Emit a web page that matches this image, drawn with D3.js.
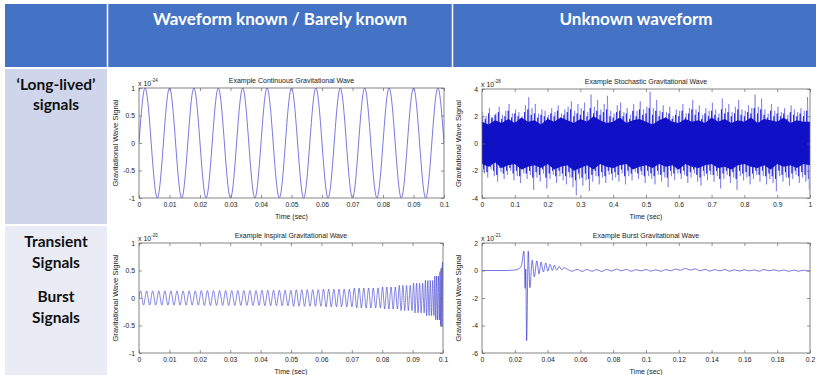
<!DOCTYPE html>
<html>
<head>
<meta charset="utf-8">
<script src="https://cdn.jsdelivr.net/npm/d3@7"></script>
<style>
  body { margin: 0; background: #fff; }
  svg { display: block; }
  .axis line { stroke: #666; stroke-width: 0.7; }
  .axis text { font-family: "Liberation Sans Narrow", "Liberation Sans", Arial, sans-serif; font-size: 6.8px; fill: #222; }
  .ptitle, .plabel { font-family: "Liberation Sans", Arial, sans-serif; fill: #222; }
  .head { font-family: Lato, "Open Sans", sans-serif; font-weight: 700; }
</style>
</head>
<body>
<svg id="chart" width="816" height="375"></svg>
<script>
// ---- table text ----
const columnHeads = ['Waveform known / Barely known', 'Unknown waveform'];
const rowHeads1 = ['\u2018Long-lived\u2019', 'signals'];
const rowHeads2 = ['Transient', 'Signals', 'Burst', 'Signals'];

// ---- continuous wave: extrema (sec, x1e-24) ----
const continuousPeaks = [
  [0, 0], [0.002, 1], [0.006, -1], [0.010, 1], [0.014, -1], [0.018, 1], [0.022, -1],
  [0.026, 1], [0.030, -1], [0.034, 1], [0.038, -1], [0.042, 1], [0.046, -1], [0.050, 1],
  [0.054, -1], [0.058, 1], [0.062, -1], [0.066, 1], [0.070, -1], [0.074, 1], [0.078, -1],
  [0.082, 1], [0.086, -1], [0.090, 1], [0.094, -1], [0.098, 1], [0.1, 0]
];

// ---- stochastic wave (x1e-28): spike tops / bottoms per 0.01 s ----
const noiseBin = 0.01;
const noiseUpper = [
  2.3, 2.0, 2.6, 1.9, 2.2, 2.7, 2.1, 2.4, 2.9, 2.2,
  2.5, 2.3, 2.0, 2.8, 3.4, 2.6, 2.9, 2.2, 2.5, 2.4,
  2.1, 2.6, 2.3, 2.8, 2.2, 2.5, 2.7, 3.1, 2.4, 2.9,
  2.6, 3.0, 2.3, 3.6, 2.7, 3.2, 2.5, 2.9, 3.5, 2.4,
  2.2, 2.8, 3.0, 2.3, 2.6, 2.1, 2.9, 2.4, 3.1, 2.5,
  2.7, 3.8, 2.6, 3.2, 2.4, 2.8, 2.3, 2.7, 2.0, 2.5,
  2.4, 2.9, 2.2, 2.6, 3.2, 2.5, 2.8, 2.1, 2.6, 2.4,
  3.0, 2.5, 2.2, 3.3, 2.6, 2.9, 2.3, 2.7, 3.2, 2.5,
  2.4, 2.8, 2.6, 3.6, 2.7, 3.3, 2.5, 2.2, 2.9, 2.4,
  2.7, 2.3, 2.6, 2.1, 2.8, 2.5, 2.3, 2.6, 2.4, 3.4
];
const noiseLower = [
  -2.2, -2.5, -1.9, -2.4, -2.8, -2.1, -2.6, -2.3, -2.0, -2.7,
  -2.4, -2.9, -2.2, -2.6, -2.3, -3.4, -2.5, -2.8, -2.2, -3.3,
  -2.6, -2.3, -2.9, -2.4, -2.7, -3.0, -2.5, -3.2, -3.8, -2.6,
  -3.1, -2.7, -3.5, -2.8, -2.4, -3.0, -2.5, -2.9, -2.3, -2.7,
  -2.5, -2.8, -2.2, -3.0, -2.4, -2.7, -2.1, -2.6, -2.3, -2.9,
  -2.4, -2.6, -3.0, -2.3, -2.8, -2.5, -3.2, -2.4, -2.7, -2.2,
  -2.6, -2.3, -2.9, -2.5, -2.2, -2.8, -3.1, -2.4, -2.7, -2.3,
  -2.8, -2.4, -3.3, -2.6, -2.3, -2.9, -2.5, -3.4, -2.4, -2.7,
  -2.5, -3.0, -2.6, -2.3, -2.8, -2.4, -3.0, -2.6, -2.9, -3.5,
  -2.4, -2.8, -2.5, -3.1, -2.6, -2.3, -2.9, -2.5, -2.8, -3.4
];
// dense middle swings per 0.01 s
const midUpper = [
  2.0, 1.8, 2.2, 1.9, 2.1, 2.3, 1.8, 2.0, 2.4, 1.9,
  2.2, 2.0, 1.8, 2.3, 2.5, 2.1, 2.2, 1.9, 2.1, 2.0,
  1.9, 2.2, 2.0, 2.4, 1.9, 2.1, 2.3, 2.5, 2.0, 2.2,
  2.1, 2.4, 2.0, 2.6, 2.2, 2.4, 2.1, 2.3, 2.5, 2.0,
  1.9, 2.3, 2.4, 2.0, 2.2, 1.8, 2.4, 2.0, 2.5, 2.1,
  2.2, 2.6, 2.1, 2.4, 2.0, 2.3, 1.9, 2.2, 1.8, 2.1,
  2.0, 2.4, 1.9, 2.2, 2.5, 2.1, 2.3, 1.8, 2.2, 2.0,
  2.4, 2.1, 1.9, 2.5, 2.2, 2.3, 2.0, 2.2, 2.5, 2.1,
  2.0, 2.3, 2.2, 2.6, 2.2, 2.5, 2.1, 1.9, 2.4, 2.0,
  2.2, 2.0, 2.2, 1.8, 2.3, 2.1, 2.0, 2.2, 2.0, 2.4
];
const midLower = [
  -1.9, -2.1, -1.7, -2.0, -2.3, -1.8, -2.2, -2.0, -1.8, -2.2,
  -2.0, -2.4, -1.9, -2.2, -2.0, -2.5, -2.1, -2.3, -1.9, -2.5,
  -2.2, -2.0, -2.4, -2.0, -2.2, -2.4, -2.1, -2.5, -2.7, -2.2,
  -2.5, -2.2, -2.6, -2.3, -2.0, -2.4, -2.1, -2.4, -2.0, -2.2,
  -2.1, -2.3, -1.9, -2.4, -2.0, -2.2, -1.8, -2.2, -2.0, -2.4,
  -2.0, -2.2, -2.4, -2.0, -2.3, -2.1, -2.5, -2.0, -2.2, -1.9,
  -2.2, -2.0, -2.4, -2.1, -1.9, -2.3, -2.5, -2.0, -2.2, -2.0,
  -2.3, -2.0, -2.6, -2.2, -2.0, -2.4, -2.1, -2.6, -2.0, -2.2,
  -2.1, -2.4, -2.2, -2.0, -2.3, -2.0, -2.4, -2.2, -2.4, -2.6,
  -2.0, -2.3, -2.1, -2.5, -2.2, -2.0, -2.4, -2.1, -2.3, -2.6
];
// solid core band per 0.02 s
const coreBin = 0.02;
const coreUpper = [
  1.6, 1.4, 1.7, 1.5, 1.8, 1.5, 1.9, 1.6, 1.7, 1.4, 1.8, 1.6, 1.9, 1.7, 1.5, 1.8, 1.6,
  2.0, 1.7, 1.5, 1.6, 1.9, 1.5, 1.7, 1.8, 1.6, 1.4, 1.7, 1.9, 1.6, 1.5, 1.8, 1.6, 1.7,
  1.5, 1.9, 1.6, 1.8, 1.5, 1.7, 1.6, 1.9, 1.5, 1.8, 1.7, 1.6, 1.9, 1.5, 1.7, 1.6, 1.6
];
const coreLower = [
  -1.5, -1.7, -1.4, -1.8, -1.6, -1.5, -1.9, -1.7, -1.6, -1.8, -1.5, -1.9, -1.7, -1.6, -2.0, -1.8, -1.6,
  -1.9, -1.5, -1.7, -1.8, -1.6, -1.5, -1.9, -1.7, -1.6, -1.8, -1.5, -1.7, -1.6, -1.9, -1.5, -1.7,
  -1.8, -1.6, -1.5, -1.8, -1.7, -1.9, -1.6, -1.5, -1.7, -1.8, -1.6, -1.9, -1.5, -1.7, -1.6, -1.8, -1.5, -1.6
];

// ---- inspiral: extrema (sec, x1e-20) ----
const inspiralPeaks = [
  [0, 0],
  [0.0005, 0.13], [0.0015, -0.13], [0.0025, 0.13], [0.0035, -0.13], [0.0045, 0.13], [0.0055, -0.13], [0.0065, 0.13], [0.0075, -0.13], [0.0085, 0.13], [0.0095, -0.13],
  [0.0105, 0.13], [0.0115, -0.13], [0.0125, 0.13], [0.0135, -0.13], [0.0145, 0.13], [0.0155, -0.13], [0.0165, 0.13], [0.0175, -0.13], [0.0185, 0.13], [0.0195, -0.13],
  [0.0205, 0.135], [0.0215, -0.135], [0.0225, 0.135], [0.0235, -0.135], [0.0245, 0.135], [0.0255, -0.135], [0.0265, 0.135], [0.0275, -0.135], [0.0285, 0.135], [0.0295, -0.135],
  [0.0305, 0.135], [0.0315, -0.135], [0.0325, 0.135], [0.0335, -0.135], [0.0345, 0.135], [0.0355, -0.135], [0.0365, 0.135], [0.0375, -0.135], [0.0385, 0.135], [0.0395, -0.135],
  [0.04045, 0.14], [0.0414, -0.14], [0.04235, 0.14], [0.0433, -0.14], [0.04425, 0.14], [0.0452, -0.14], [0.04615, 0.14], [0.0471, -0.14], [0.04805, 0.14], [0.049, -0.14], [0.04995, 0.14],
  [0.05085, -0.15], [0.05175, 0.15], [0.05265, -0.15], [0.05355, 0.15], [0.05445, -0.15], [0.05535, 0.15], [0.05625, -0.15], [0.05715, 0.15], [0.05805, -0.15], [0.05895, 0.15], [0.05985, -0.15],
  [0.0607, 0.16], [0.06155, -0.16], [0.0624, 0.16], [0.06325, -0.16], [0.0641, 0.16], [0.06495, -0.16], [0.0658, 0.16], [0.06665, -0.16], [0.0675, 0.16], [0.06835, -0.16], [0.0692, 0.16], [0.07005, -0.16],
  [0.07083, 0.18], [0.07161, -0.18], [0.07239, 0.18], [0.07317, -0.18], [0.07395, 0.18], [0.07473, -0.18], [0.07551, 0.18], [0.07629, -0.18], [0.07707, 0.18], [0.07785, -0.18], [0.07863, 0.18], [0.07941, -0.18],
  [0.08011, 0.2], [0.08081, -0.2], [0.08151, 0.2], [0.08221, -0.2], [0.08291, 0.2], [0.08361, -0.2], [0.08431, 0.2], [0.08501, -0.2],
  [0.08561, 0.23], [0.08621, -0.23], [0.08681, 0.23], [0.08741, -0.23], [0.08801, 0.23], [0.08861, -0.23], [0.08921, 0.23], [0.08981, -0.23],
  [0.09031, 0.27], [0.09081, -0.27], [0.09131, 0.27], [0.09181, -0.27], [0.09231, 0.27], [0.09281, -0.27], [0.09331, 0.27], [0.09381, -0.27],
  [0.09421, 0.32], [0.09461, -0.32], [0.09501, 0.32], [0.09541, -0.32], [0.09581, 0.32], [0.09621, -0.32], [0.09661, 0.32], [0.09701, -0.32],
  [0.09731, 0.4], [0.09761, -0.4], [0.09791, 0.4], [0.09821, -0.4], [0.09851, 0.4], [0.09881, -0.4],
  [0.09901, 0.48], [0.09921, -0.5], [0.09941, 0.55], [0.09961, -0.52], [0.09981, 0.65], [0.1, -0.5]
];

// ---- burst: (sec, x1e-21) ----
const burstPoints = [
  [0, 0], [0.015, 0], [0.019, 0.02], [0.022, 0.1], [0.024, 0.35], [0.0256, 1.4], [0.0263, -1.3],
  [0.0267, 0.1], [0.0272, -5.1], [0.0282, 1.4], [0.0292, -1.25], [0.0306, 0.75], [0.0319, -0.45],
  [0.0334, 0.7], [0.0348, -0.25], [0.036, 0.62], [0.0374, -0.1], [0.0389, 0.55], [0.0401, -0.05],
  [0.0415, 0.45], [0.0429, 0.0], [0.0441, 0.38], [0.0456, 0.02], [0.047, 0.3], [0.0486, 0.05],
  [0.05, 0.2], [0.052, 0.1], [0.055, -0.05], [0.058, 0.08], [0.061, -0.06], [0.064, 0.07],
  [0.067, -0.05], [0.070, 0.06], [0.073, -0.07], [0.076, 0.08], [0.079, -0.04], [0.082, 0.1],
  [0.085, -0.02], [0.088, 0.08], [0.091, -0.05], [0.094, 0.06], [0.097, -0.03], [0.100, 0.07],
  [0.103, -0.04], [0.106, 0.05], [0.109, -0.05], [0.112, 0.06], [0.115, -0.02], [0.118, 0.1],
  [0.121, 0.02], [0.124, 0.15], [0.127, 0.03], [0.130, 0.12], [0.133, -0.02], [0.136, 0.08],
  [0.139, -0.04], [0.142, 0.06], [0.145, -0.03], [0.148, 0.07], [0.151, -0.05], [0.154, 0.05],
  [0.157, -0.04], [0.160, 0.06], [0.163, -0.03], [0.166, 0.04], [0.169, -0.05], [0.172, 0.07],
  [0.175, -0.02], [0.178, 0.05], [0.181, -0.04], [0.184, 0.04], [0.187, -0.06], [0.190, 0.03],
  [0.193, -0.05], [0.196, 0.02], [0.199, -0.04], [0.2, -0.02]
];

// ---- ticks ----
const ticksTenth = [0, 0.01, 0.02, 0.03, 0.04, 0.05, 0.06, 0.07, 0.08, 0.09, 0.1];
const ticksOne = [0, 0.1, 0.2, 0.3, 0.4, 0.5, 0.6, 0.7, 0.8, 0.9, 1];
const ticksFifth = [0, 0.02, 0.04, 0.06, 0.08, 0.1, 0.12, 0.14, 0.16, 0.18, 0.2];
const ticksUnit = [-1, -0.5, 0, 0.5, 1];
const ticksFour = [-4, -2, 0, 2, 4];
const ticksBurst = [-6, -4, -2, 0, 2];

const lineColor = '#2b2bd0';
const svg = d3.select('#chart');

// ---- table background ----
svg.append('rect').attr('x', 5).attr('y', 4).attr('width', 811).attr('height', 63).attr('fill', '#4472C4');
[107.5, 452.5].forEach(xx => {
    svg.append('line').attr('x1', xx).attr('x2', xx).attr('y1', 4).attr('y2', 67)
        .attr('stroke', '#fff').attr('stroke-width', 1.5);
});
svg.append('rect').attr('x', 5).attr('y', 69).attr('width', 102).attr('height', 155).attr('fill', '#CFD5EA');
svg.append('rect').attr('x', 5).attr('y', 226).attr('width', 102).attr('height', 149).attr('fill', '#E9EBF5');

svg.append('text').attr('class', 'head').attr('x', 280).attr('y', 25).attr('text-anchor', 'middle')
    .attr('font-size', 17).attr('fill', '#fff').text(columnHeads[0]);
svg.append('text').attr('class', 'head').attr('x', 636).attr('y', 25).attr('text-anchor', 'middle')
    .attr('font-size', 17).attr('fill', '#fff').text(columnHeads[1]);

rowHeads1.forEach((t, i) => {
    svg.append('text').attr('class', 'head').attr('x', 56).attr('y', 90 + i * 20).attr('text-anchor', 'middle')
        .attr('font-size', 15.5).attr('fill', '#111').text(t);
});
[247, 268, 302, 323].forEach((yy, i) => {
    svg.append('text').attr('class', 'head').attr('x', 56).attr('y', yy).attr('text-anchor', 'middle')
        .attr('font-size', 15.5).attr('fill', '#111').text(rowHeads2[i]);
});

// ---- panels ----
function drawPanel(p) {
    const x = d3.scaleLinear().domain(p.xDomain).range([p.left, p.right]);
    const y = d3.scaleLinear().domain(p.yDomain).range([p.bottom, p.top]);
    const g = svg.append('g');

    g.append('clipPath').attr('id', 'clip-' + p.id)
        .append('rect').attr('x', p.left).attr('y', p.top)
        .attr('width', p.right - p.left).attr('height', p.bottom - p.top);
    const plot = g.append('g').attr('clip-path', `url(#clip-${p.id})`);
    p.draw(plot, x, y);

    // MATLAB style: ticks inside on all four sides
    g.append('g').attr('class', 'axis').attr('transform', `translate(0,${p.bottom})`)
        .call(d3.axisBottom(x).tickValues(p.xTicks).tickFormat(d => String(d))
            .tickSizeInner(-3).tickSizeOuter(0).tickPadding(4));
    g.append('g').attr('class', 'axis').attr('transform', `translate(0,${p.top})`)
        .call(d3.axisTop(x).tickValues(p.xTicks).tickFormat(() => '')
            .tickSizeInner(-3).tickSizeOuter(0));
    g.append('g').attr('class', 'axis').attr('transform', `translate(${p.left},0)`)
        .call(d3.axisLeft(y).tickValues(p.yTicks).tickFormat(d => String(d))
            .tickSizeInner(-3).tickSizeOuter(0).tickPadding(4));
    g.append('g').attr('class', 'axis').attr('transform', `translate(${p.right},0)`)
        .call(d3.axisRight(y).tickValues(p.yTicks).tickFormat(() => '')
            .tickSizeInner(-3).tickSizeOuter(0));
    g.selectAll('.domain').remove();

    g.append('rect').attr('x', p.left).attr('y', p.top)
        .attr('width', p.right - p.left).attr('height', p.bottom - p.top)
        .attr('fill', 'none').attr('stroke', '#666').attr('stroke-width', 0.8);

    const cx = (p.left + p.right) / 2;
    g.append('text').attr('class', 'ptitle').attr('x', cx).attr('y', p.top - 5)
        .attr('text-anchor', 'middle').attr('font-size', 7).text(p.title);
    g.append('text').attr('class', 'plabel').attr('x', cx).attr('y', p.bottom + 21)
        .attr('text-anchor', 'middle').attr('font-size', 7).text('Time (sec)');
    g.append('text').attr('class', 'plabel')
        .attr('transform', `translate(${p.left - 21},${(p.top + p.bottom) / 2}) rotate(-90)`)
        .attr('text-anchor', 'middle').attr('font-size', 7.6).text('Gravitational Wave Signal');

    const ex = g.append('text').attr('class', 'plabel').attr('x', p.left - 1).attr('y', p.top - 2)
        .attr('font-size', 7);
    ex.append('tspan').text('x 10');
    ex.append('tspan').attr('dy', -4).attr('font-size', 4.5).text(p.exponent);
}

const waveLine = (x, y) => d3.line().x(d => x(d[0])).y(d => y(d[1])).curve(d3.curveMonotoneX);

drawPanel({
    id: 'cw', left: 139, right: 444, top: 88, bottom: 198,
    xDomain: [0, 0.1], yDomain: [-1, 1], xTicks: ticksTenth, yTicks: ticksUnit,
    title: 'Example Continuous Gravitational Wave', exponent: '-24',
    draw: (g, x, y) => {
        g.append('path').datum(continuousPeaks).attr('d', waveLine(x, y))
            .attr('fill', 'none').attr('stroke', lineColor).attr('stroke-width', 0.8).attr('opacity', 0.8);
    }
});

drawPanel({
    id: 'st', left: 482, right: 810, top: 89, bottom: 198,
    xDomain: [0, 1], yDomain: [-4, 4], xTicks: ticksOne, yTicks: ticksFour,
    title: 'Example Stochastic Gravitational Wave', exponent: '-28',
    draw: (g, x, y) => {
        const zig = d3.line().x(d => x(d[0])).y(d => y(d[1]));
        const spikes = [];
        noiseUpper.forEach((v, i) => {
            spikes.push([i * noiseBin + noiseBin * 0.25, v]);
            spikes.push([i * noiseBin + noiseBin * 0.75, noiseLower[i]]);
        });
        g.append('path').datum(spikes).attr('d', zig)
            .attr('fill', 'none').attr('stroke', '#3535e0').attr('stroke-width', 0.8).attr('opacity', 0.5);
        const mids = [];
        midUpper.forEach((v, i) => {
            mids.push([i * noiseBin, v]);
            mids.push([i * noiseBin + noiseBin * 0.5, midLower[i]]);
        });
        g.append('path').datum(mids).attr('d', zig)
            .attr('fill', 'none').attr('stroke', '#1a1ad8').attr('stroke-width', 0.9).attr('opacity', 0.85);
        const core = coreUpper.map((v, i) => [i * coreBin, v, coreLower[i]]);
        g.append('path').datum(core)
            .attr('d', d3.area().x(d => x(d[0])).y0(d => y(d[2])).y1(d => y(d[1])))
            .attr('fill', '#1010c6');
    }
});

drawPanel({
    id: 'in', left: 139, right: 443, top: 243, bottom: 353,
    xDomain: [0, 0.1], yDomain: [-1, 1], xTicks: ticksTenth, yTicks: ticksUnit,
    title: 'Example Inspiral Gravitational Wave', exponent: '-20',
    draw: (g, x, y) => {
        g.append('path').datum(inspiralPeaks).attr('d', waveLine(x, y))
            .attr('fill', 'none').attr('stroke', lineColor).attr('stroke-width', 0.7).attr('opacity', 0.8);
    }
});

drawPanel({
    id: 'bu', left: 482, right: 810, top: 243, bottom: 353,
    xDomain: [0, 0.2], yDomain: [-6, 2], xTicks: ticksFifth, yTicks: ticksBurst,
    title: 'Example Burst Gravitational Wave', exponent: '-21',
    draw: (g, x, y) => {
        g.append('path').datum(burstPoints).attr('d', waveLine(x, y))
            .attr('fill', 'none').attr('stroke', lineColor).attr('stroke-width', 0.8).attr('opacity', 0.8);
    }
});
</script>
</body>
</html>
